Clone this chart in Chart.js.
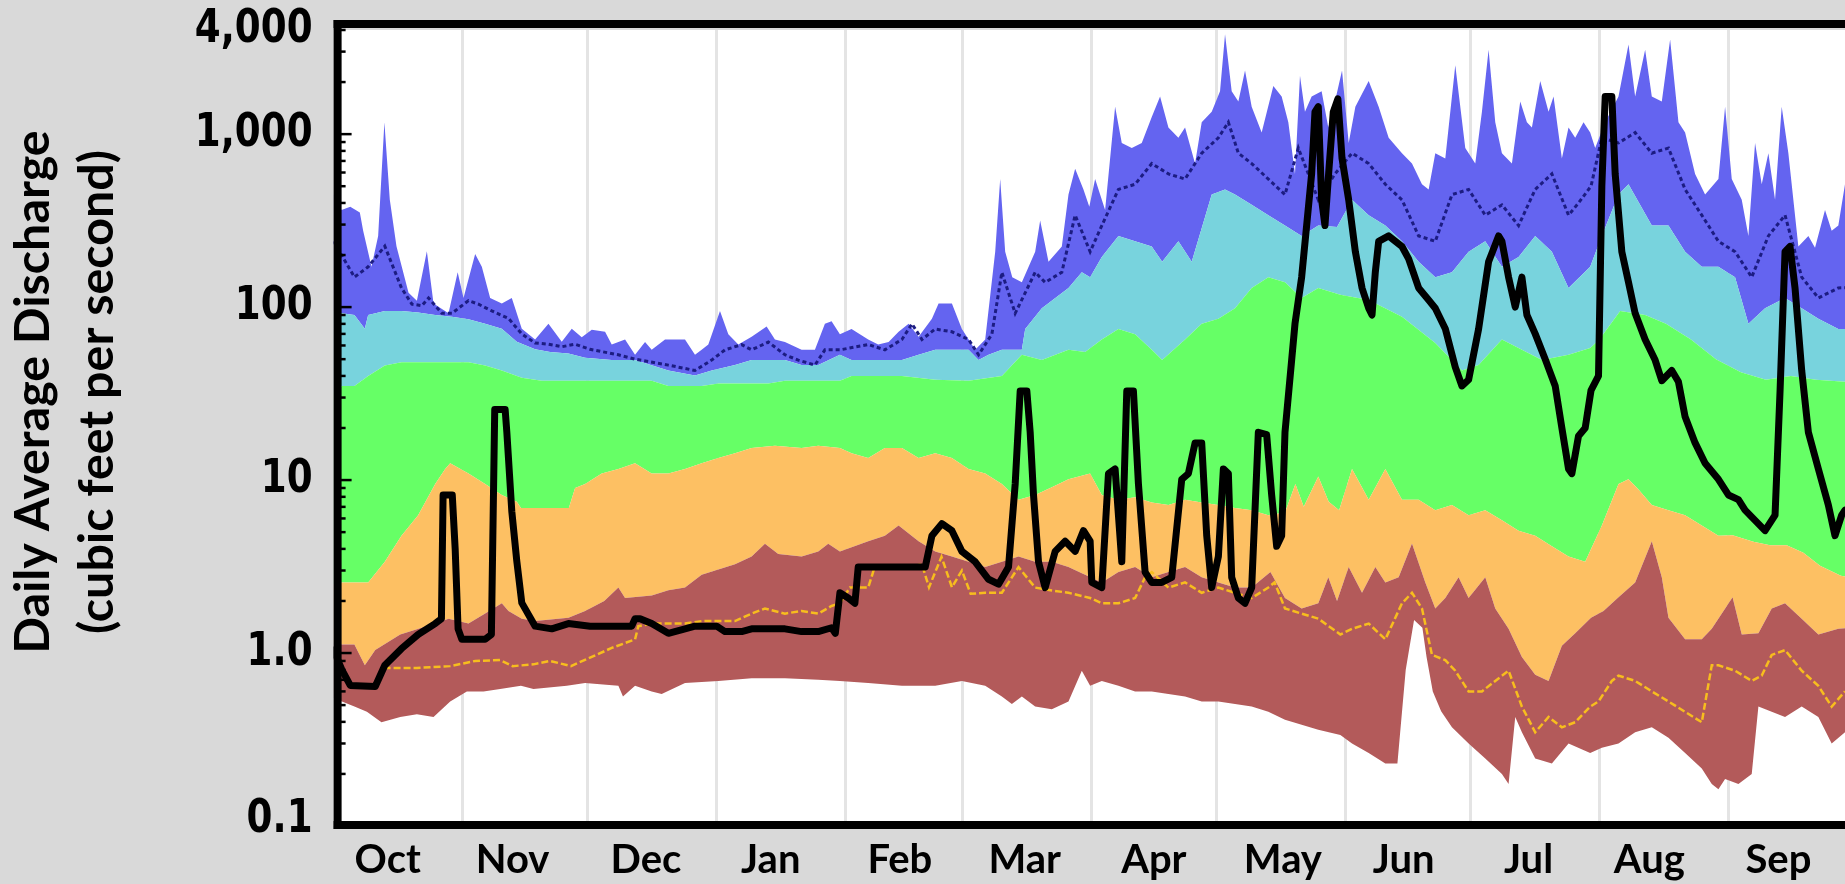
<!DOCTYPE html>
<html><head><meta charset="utf-8">
<script src="https://cdn.jsdelivr.net/npm/chart.js@4/dist/chart.umd.min.js"></script>
<style>html,body{margin:0;padding:0;background:#d9d9d9;overflow:hidden}#wrap{position:relative;width:1845px;height:884px}</style>
</head><body><div id="wrap"><canvas id="c" width="1845" height="884"></canvas></div>
<script>
// ---- axis text ----
const titleLines = ['Daily Average Discharge', '(cubic feet per second)'];
const monthNames = ['Oct','Nov','Dec','Jan','Feb','Mar','Apr','May','Jun','Jul','Aug','Sep'];
const monthLabelDays = [13,43,75,105,136,166,197,228,257,287,316,347];
const monthStartDays = [31,61,92,123,151,182,212,243,273,304,335];
const yTickValues = [0.1,1,10,100,1000,4000];
const yTickLabels = ['0.1','1.0','10','100','1,000','4,000'];

// ---- series: [day of water year, cfs] ----
const minPts = [[0,0.55],[2,0.525],[5,0.49],[8,0.457],[11.5,0.398],[16,0.427],[20,0.442],[24,0.427],[28,0.525],[32,0.6],[36,0.6],[40,0.62],[45,0.646],[48,0.62],[56,0.646],[60.4,0.67],[64,0.66],[68.4,0.646],[69.5,0.56],[72.4,0.646],[76.4,0.6],[78.8,0.58],[84.4,0.67],[92.4,0.69],[100.4,0.716],[108.4,0.716],[116.4,0.7],[121.6,0.69],[128.4,0.67],[136.5,0.646],[144.5,0.646],[150.9,0.69],[156.5,0.646],[160.5,0.56],[162.9,0.507],[165.3,0.56],[168.5,0.49],[172.5,0.473],[176.5,0.525],[179.7,0.79],[181.7,0.646],[184.5,0.69],[188.5,0.646],[192.5,0.6],[196.5,0.6],[200.5,0.58],[204.5,0.56],[208.5,0.525],[212.5,0.525],[216.5,0.507],[220.5,0.49],[224.5,0.457],[228.5,0.412],[232.5,0.385],[236.5,0.36],[241.8,0.336],[244.6,0.3],[248.6,0.264],[252.6,0.23],[255.5,0.23],[257.5,0.8],[259.5,1.55],[261.5,1.4],[262.5,0.95],[264,0.6],[266,0.46],[268.6,0.372],[272.6,0.3],[276.6,0.246],[280.6,0.2],[282.2,0.175],[283.8,0.427],[285.4,0.348],[288.6,0.246],[292.6,0.23],[296.6,0.3],[301.8,0.264],[304.6,0.283],[308.6,0.3],[312.6,0.348],[316.6,0.372],[320.6,0.324],[324.6,0.264],[328.6,0.215],[331,0.175],[332.6,0.163],[334.2,0.187],[337.4,0.175],[340.6,0.2],[342.2,0.49],[345.4,0.457],[348.6,0.427],[352.6,0.49],[356.6,0.427],[359.8,0.3],[363,0.348],[365,0.35]];
const p10Pts = [[0,1.15],[2,1.12],[5,1.12],[7.5,0.85],[10,1.04],[16,1.28],[24.4,1.48],[27.6,1.58],[32.4,1.48],[36.4,1.69],[40.4,1.94],[42,1.75],[45.2,1.58],[48.4,1.53],[56.4,1.6],[60.4,1.75],[65,2.0],[68.4,2.39],[70,2.08],[76.4,2.15],[80.4,2.31],[84.4,2.39],[88.4,2.84],[92.4,3.04],[96.4,3.26],[100.4,3.61],[103.6,4.29],[106.8,3.74],[112.4,3.61],[116.4,3.87],[118.8,4.29],[121.6,3.87],[128.4,4.43],[132.4,4.77],[135.7,5.46],[140.5,4.43],[144.5,3.87],[148.5,3.61],[152.5,3.37],[156.5,3.14],[160.5,3.37],[164.5,3.61],[168.5,3.37],[172.5,3.37],[176.5,3.14],[181,2.8],[184.5,2.56],[188.5,2.94],[192.5,3.14],[196.5,2.74],[200.5,2.94],[204.5,3.14],[208.5,2.74],[212.5,2.56],[216.5,2.39],[220.5,2.39],[225,2.94],[228.5,2.08],[232.5,1.81],[236.5,1.94],[238.9,2.74],[241,2.0],[243.8,3.14],[247,2.23],[250.2,3.14],[252.6,2.56],[255.8,2.74],[259,4.3],[262.2,2.56],[264.6,1.81],[267,2.08],[270.2,2.74],[272.6,2.08],[276.6,2.74],[279,1.81],[282.2,1.38],[285.4,0.95],[288.6,0.75],[291.8,0.69],[295,1.1],[298.2,1.3],[302,1.6],[305,1.75],[308.6,2.1],[312.6,2.56],[316.6,4.43],[319,2.74],[320.6,1.6],[324.6,1.2],[328.6,1.2],[331,1.38],[336,2.1],[338.2,1.28],[342.2,1.3],[345.4,1.81],[348.6,1.94],[352.6,1.58],[356.6,1.28],[361.4,1.38],[365,1.4]];
const p25Pts = [[0,2.5],[2,2.56],[8.3,2.56],[12.3,3.37],[16.3,4.76],[20.3,6.27],[24.4,9.5],[26.8,11.6],[28,12.5],[32.4,10.9],[36.4,9.5],[40.4,8.2],[44,7.5],[45,6.9],[56.5,6.9],[58,9.0],[60.4,9.5],[64.4,10.9],[68.4,11.6],[72.4,12.5],[76.4,10.9],[80.4,10.9],[84.4,11.6],[88.4,12.5],[92.4,13.4],[96.4,14.3],[100.4,15.3],[106,15.8],[112.4,15.3],[116.4,15.8],[121.6,15.3],[124.4,14.3],[128.4,13.4],[132.4,15.3],[136.5,15.3],[140.5,13.4],[144.5,14.3],[148.5,13.4],[152.5,11.6],[156.5,10.9],[160.5,9.5],[164.5,7.7],[168.5,8.2],[172.5,9.1],[176.5,10.1],[181.7,10.9],[184.5,8.2],[188.5,7.7],[192.5,7.96],[196.5,7.43],[200.5,7.18],[204.5,7.7],[208.5,7.43],[212.5,7.18],[216.5,6.9],[220.5,6.7],[224.5,6.27],[228.5,6.5],[231,9.5],[233,7.0],[236.5,10.5],[239,7.5],[241.5,6.7],[244.6,11.6],[248.6,7.7],[252.6,11.6],[256.6,7.7],[260.6,7.7],[264.6,6.7],[268.6,7.18],[272.6,6.27],[276.6,6.7],[280.6,5.85],[284.6,5.1],[288.6,4.77],[292.6,4.14],[296.6,3.61],[300.6,3.37],[304.6,5.46],[308.6,9.5],[311,10.1],[313.4,8.83],[316.6,7.18],[320.6,6.7],[324.6,6.27],[328.6,5.46],[332.6,4.77],[336,4.8],[341,4.4],[345,4.2],[349,4.2],[353,3.8],[357,3.2],[362,2.8],[365,2.7]];
const p75Pts = [[0,32],[2,35],[5,35],[8.3,40],[12.3,46],[16.3,48],[24.4,48],[32.4,48],[36.4,46],[40.4,43],[45.2,39],[50,37.5],[76.4,37.5],[80.4,35],[88.4,35],[92.4,36.2],[104.4,36.2],[108.4,37.5],[121.6,37.5],[124.4,40],[136.5,40],[144.5,38],[152.5,37.5],[160.5,40],[165.3,53],[170.1,49.4],[176.5,56.6],[180.5,55],[184.5,65],[188.5,74.7],[192.5,69.7],[196.5,56.6],[199,49.4],[204.5,65],[208.5,80],[212.5,85.7],[216.5,98.5],[220.5,129],[224.5,149],[228.5,139],[232.5,113],[236.5,129],[241.8,118],[248.6,110],[256.6,88],[264.6,62],[271,43],[275,46.2],[280.6,65],[285.4,56.6],[290.2,49.4],[296.6,53],[301.8,58],[304,65],[309,95],[315,90],[320,80],[326,65],[332,50],[338,42],[344,38],[350,40],[356,38],[363,37],[365,37]];
const p90Pts = [[0,95],[2,92],[5,90],[7.5,75],[8.3,90],[12.3,95],[16.3,95],[20.3,93],[24.4,90],[28.4,88],[32.4,85],[36.4,80],[40.4,75],[44,63],[48.4,57],[52,55],[56.4,54],[60.4,51],[66.8,49.4],[72.4,49.4],[80.4,43],[86.8,40.2],[90.8,43],[96.4,46.2],[100.4,49.4],[108.4,49.4],[112.4,46.2],[116.4,46.2],[121.6,53],[124.4,49.4],[136.5,49.4],[140.5,53],[144.5,56.6],[152.5,56.6],[154.9,49.4],[157.3,53],[160.5,56.6],[165.3,56.6],[166.1,74.7],[170.1,98.5],[176.5,129],[179.7,159],[181.7,149],[184.5,195],[188.5,258],[192.5,240],[196.5,224],[199,183],[202.9,240],[206.1,183],[210.9,447],[214.1,479],[216.5,447],[220.5,390],[224.5,340],[228.5,296],[232.5,258],[236.5,296],[241,290],[244.6,417],[248.6,340],[252.6,296],[256.6,240],[260.6,183],[264.6,149],[268.6,159],[272.6,209],[276.6,240],[280.6,171],[284.6,195],[288.6,258],[292.6,209],[296.6,129],[301.8,171],[304.6,258],[308.6,447],[311,513],[316.6,296],[320.6,296],[324.6,209],[328.6,171],[332.6,171],[336.6,149],[339.8,80],[343.8,98.5],[348.6,113],[352.6,98.5],[356.6,85.7],[361.4,74.7],[365,75]];
const maxPts = [[0,450],[1.9,364],[4,380],[6.3,352],[7.1,276],[9.1,171],[10.7,258],[12.2,1170],[13.5,417],[15.1,225],[18,121],[20,109],[22.4,210],[24,105],[27.6,92],[29.8,159],[31.2,113],[34,203],[35.6,171],[37.6,113],[40.4,105],[42.8,113],[45.2,75],[48.4,65],[51.6,80],[54.8,63],[57.2,75],[59.6,67],[62,74],[65.2,72],[66.8,60.7],[70,65],[72.4,53],[74.8,62.8],[76.4,56.6],[79.6,65],[84.4,65],[86.8,53],[88.4,56.6],[90,60.7],[92.8,95],[94.8,69.7],[97.2,60.7],[100.4,67.3],[104,77.3],[106,65],[108.4,62.8],[112.4,56.6],[115.6,56.6],[118,80],[119.6,82.8],[121.6,69.7],[124.4,74.7],[128.4,65],[130.8,60.7],[133.3,62.8],[135.7,72],[138.1,80],[140.5,67.3],[143.7,85.7],[145.3,105],[148.5,105],[150.9,74.7],[154.1,56.6],[156.5,65],[158.9,209],[160.1,550],[161.3,209],[163,149],[165.3,139],[168.5,209],[169.7,317],[171.7,183],[174.9,224],[176.5,447],[178.1,631],[180.1,479],[181.5,380],[182.9,550],[185.3,364],[187.7,1442],[189.3,889],[191.7,831],[194.1,889],[196.5,1256],[198.5,1652],[200.5,1094],[202.9,953],[204.5,1094],[206.9,676],[208.5,1172],[210.9,1346],[212.9,1770],[214.1,3775],[215.7,1770],[217.3,1545],[218.9,2333],[220.5,1442],[222.9,1021],[225.7,1897],[227.7,1652],[229.3,1172],[230.9,589],[232.1,2178],[233.3,1346],[234.9,1652],[237.3,1770],[238.9,1094],[240.5,1545],[242.2,2333],[243.8,889],[245.4,1442],[248.6,2032],[251,1442],[253.4,953],[256.6,776],[259,676],[261.4,513],[263,479],[264.6,776],[267,724],[269.4,2500],[271.8,831],[274.2,676],[275.8,1346],[277.4,3077],[279,1172],[280.6,776],[283,676],[285,1545],[286.6,1172],[287.8,1094],[289.8,2032],[291.8,1346],[293,1652],[295,724],[296.6,1094],[298.2,953],[300.2,1172],[301.8,1021],[303,831],[305.4,1172],[308.6,1652],[311,3300],[312.6,1652],[315,3077],[316.6,1652],[319,1545],[321,3524],[323,1172],[324.6,1021],[327,589],[329.4,447],[332.6,550],[334.2,1442],[335.8,550],[338.2,417],[339.8,258],[341.4,889],[343,513],[344.6,776],[346.2,417],[347.8,1442],[349.4,776],[351.8,224],[354.2,258],[355.8,220],[358.2,364],[359.8,276],[361.4,296],[363,513],[365,500]];
const meanPts = [[0,240],[5,149],[8.3,171],[12.3,225],[16.3,129],[18.8,104],[21.2,102],[22.8,113],[26,92],[28.4,92],[32.4,109],[34.8,104],[38,95],[42,86],[45.2,70],[48.4,62],[51.6,61],[54.8,59],[58,61],[61.6,57],[68.4,53],[72.4,50],[80.4,46.2],[86.8,43],[90.8,49.4],[94,56.6],[98,60.7],[100.4,56.6],[104.4,62.8],[108.4,53],[111.6,49.4],[115.6,46.2],[118,56.6],[121.6,56.6],[128.4,60.7],[132.4,56.6],[136.5,65],[138.9,80],[141.3,65],[144.5,74.7],[148.5,72],[152.5,65],[154.9,53],[158.1,69.7],[160.5,159],[163.7,92],[168.5,159],[170.9,139],[174.9,159],[178.1,340],[181.7,209],[184.5,296],[188.5,479],[192.5,513],[196.5,676],[200.5,589],[204.5,550],[208.5,776],[212.5,953],[214.9,1172],[217.3,776],[220.5,676],[224.5,550],[228.5,447],[231.7,831],[236.5,417],[240.5,589],[244.6,776],[248.6,676],[252.6,513],[256.6,417],[260.6,258],[264.6,240],[268.6,447],[272.6,479],[276.6,340],[280.6,390],[284.6,296],[288.6,479],[292.6,589],[296.6,340],[299,400],[302,500],[304.6,953],[308.6,889],[312.6,1021],[316.6,776],[320.6,831],[324.6,479],[328.6,340],[332.6,240],[336.6,209],[340.6,149],[344.6,258],[348.6,340],[352.6,149],[356.6,113],[361.4,129],[365,130]];
const yellowPts = [[12,0.82],[20,0.82],[28,0.84],[34,0.9],[40,0.91],[43,0.84],[48,0.86],[52,0.9],[57,0.84],[62,0.95],[66.8,1.07],[72.4,1.2],[73.2,1.43],[76.4,1.48],[84.4,1.48],[88.4,1.53],[96.4,1.53],[100.4,1.69],[103.6,1.81],[108.4,1.69],[112.4,1.75],[116.4,1.69],[119.6,1.87],[121.6,1.94],[124,2.39],[128.4,2.39],[130,3.17],[139,3.17],[141.3,3.26],[143,2.4],[146,3.6],[148.5,2.4],[150.9,3.0],[153,2.2],[156.5,2.23],[160.5,2.23],[164.5,3.14],[168.5,2.39],[172.5,2.3],[176.5,2.23],[181.7,2.08],[184.5,1.94],[188.5,1.94],[192.5,2.08],[194.9,2.74],[196.5,2.94],[200.5,2.39],[204.5,2.56],[208.5,2.23],[212.5,2.39],[216.5,2.23],[220.5,2.08],[224.5,2.39],[226,2.56],[228.5,1.81],[232.5,1.69],[236.5,1.58],[241.8,1.28],[244.6,1.38],[248.6,1.48],[252.6,1.2],[256.6,1.94],[259,2.23],[261.4,1.81],[263.8,0.975],[267,0.91],[269.4,0.79],[272.6,0.6],[275.8,0.6],[279,0.69],[282.2,0.79],[285.4,0.49],[288.6,0.348],[291.8,0.427],[295,0.372],[298.2,0.398],[301.8,0.49],[303.8,0.525],[307,0.69],[308.6,0.74],[312.6,0.69],[316.6,0.6],[320.6,0.525],[324.6,0.457],[328.6,0.398],[331,0.85],[332.6,0.85],[336.6,0.79],[340.6,0.69],[343,0.74],[345.4,0.975],[348.6,1.04],[352.6,0.79],[356.6,0.646],[359.8,0.49],[363,0.6]];
const currentPts = [[0,1.04],[2,0.8],[4,0.65],[10,0.64],[12.3,0.85],[16.3,1.06],[20.3,1.28],[24.4,1.48],[25.9,1.58],[26.3,8.2],[28.5,8.2],[29.2,4.0],[29.9,1.38],[30.8,1.2],[36.4,1.2],[37.9,1.28],[38.7,25.6],[41.2,25.6],[41.6,19],[42.8,6.6],[44,3.4],[45.2,1.95],[48.4,1.43],[52.4,1.38],[56.4,1.48],[61.6,1.43],[71.6,1.43],[72.4,1.58],[73.6,1.58],[76.4,1.48],[80.4,1.3],[84.4,1.38],[86.8,1.43],[92,1.43],[94,1.33],[98,1.33],[100.4,1.38],[108.4,1.38],[112.4,1.33],[116.4,1.33],[119.6,1.4],[120.5,1.3],[121.6,2.23],[123.6,2.08],[125.2,1.94],[126,3.14],[132.4,3.14],[142.1,3.14],[143.7,4.77],[146.1,5.6],[148.5,5.1],[150.9,3.87],[154.1,3.37],[157.3,2.67],[159.7,2.5],[162.1,3.14],[163.7,9.5],[164.9,32.7],[166.5,32.7],[167.3,18.9],[168.1,8.2],[169.3,3.37],[170.9,2.39],[173.3,3.87],[175.7,4.43],[178.1,3.87],[180.1,5.1],[181.7,4.43],[182.1,2.56],[184.5,2.39],[186.1,10.9],[187.7,11.6],[189.3,3.37],[190.5,32.7],[192.1,32.7],[193.3,9.5],[194.9,2.94],[196.5,2.56],[198.9,2.56],[201.3,2.74],[203.7,10.1],[205.3,10.9],[206.9,16.4],[208.5,16.4],[209.7,4.77],[210.9,2.39],[212.5,3.61],[213.7,11.6],[214.9,10.9],[215.7,2.74],[217.3,2.08],[218.9,1.94],[220.5,2.39],[222.1,18.9],[224.1,18.3],[225.3,8.2],[226.5,4.14],[227.7,4.77],[228.5,18.9],[230.1,49.4],[230.9,80],[232.5,149],[234.9,589],[235.7,1346],[236.5,1442],[237.3,417],[238.1,296],[239,600],[240.1,1346],[241.2,1600],[242.2,724],[243.8,417],[245.4,209],[247,129],[248.6,98.5],[249.4,90],[250.2,160],[251,240],[253.4,258],[256.6,224],[258.2,190],[260.6,129],[263,110],[264.6,98.5],[267,75],[269.4,45],[271,35],[272.6,38],[275,74.7],[277.4,183],[279.8,258],[280.6,240],[282.2,149],[283.8,100],[285.4,149],[286.6,90],[288.6,70],[291,50],[293.4,35],[295,20],[296.6,11.6],[297.4,10.9],[299,18],[300.6,20],[302,33],[303.8,40],[304.6,500],[305.4,1652],[307,1652],[307.8,589],[309.4,209],[311,139],[312.6,92],[315,65],[317.4,49.4],[319,37.5],[321.4,43],[323,37],[324.6,23.2],[327,16.4],[329.4,12.5],[332.6,10.1],[335,8.2],[337.4,7.7],[339,6.7],[341.4,5.85],[343.8,5.1],[346.2,6.27],[347.4,32.7],[348.6,209],[349.8,224],[351,129],[352.6,43],[354.2,18.9],[356.6,11.6],[359,7.18],[360.6,4.77],[362.2,6.27],[363,6.7],[365,6.5]];

// ---- styling ----
const C = {brown:'#b35a5a', orange:'#fdc063', green:'#66ff66', cyan:'#78d3dd', blue:'#6464f0',
           mean:'#1c1c82', yellow:'#f7bd1e', current:'#000000', grid:'#e4e4e4'};

const xy = pts => pts.map(p => ({x: p[0], y: p[1]}));
const band = (pts, color) => ({data: xy(pts), borderWidth: 0, pointRadius: 0, fill: '-1', backgroundColor: color, order: 10});

const decorPlugin = {
  id: 'decor',
  beforeDraw(chart) {
    const {ctx, chartArea: a} = chart;
    ctx.save(); ctx.fillStyle = '#ffffff';
    ctx.fillRect(a.left, a.top, a.right - a.left, a.bottom - a.top);
    ctx.restore();
  },
  afterDatasetsDraw(chart) {
    const {ctx, chartArea: a, scales: {y}} = chart;
    ctx.save();
    ctx.fillStyle = '#000';
    ctx.fillRect(a.left, a.top - 10, a.right - a.left, 8);
    ctx.fillRect(a.left, a.top - 10, 8, a.bottom + 3 - (a.top - 10));
    ctx.fillRect(a.left, a.bottom - 5, a.right - a.left, 8);
    ctx.strokeStyle = '#000'; ctx.lineWidth = 2.5;
    for (let e = -1; e <= 3; e++) for (let m = 1; m <= 9; m++) {
      const v = m * Math.pow(10, e);
      if (v > 4000 || v <= 0.1) continue;
      const py = y.getPixelForValue(v);
      ctx.beginPath(); ctx.moveTo(a.left + 6, py); ctx.lineTo(a.left + (m === 1 ? 18 : 12), py); ctx.stroke();
    }
    ctx.restore();
  },
  afterDraw(chart) {
    const {ctx, chartArea: a, scales: {y}} = chart;
    ctx.save();
    ctx.fillStyle = '#000'; ctx.font = 'bold 46px "DejaVu Sans"';
    ctx.textAlign = 'right'; ctx.textBaseline = 'middle';
    yTickValues.forEach((v, i) => {
      const py = Math.min(y.getPixelForValue(v), a.bottom - 6);
      ctx.save(); ctx.translate(a.left - 21, py); ctx.scale(0.81, 1);
      ctx.fillText(yTickLabels[i], 0, 0); ctx.restore();
    });
    ctx.font = 'bold 48px Lato';
    const w = ctx.measureText(titleLines[0]).width;
    const size = 48 * 524 / w;
    ctx.font = 'bold ' + size.toFixed(1) + 'px Lato';
    ctx.textAlign = 'center'; ctx.textBaseline = 'alphabetic';
    const cy = 392;
    [[49, titleLines[0]], [113, titleLines[1]]].forEach(([bx, t]) => {
      ctx.save(); ctx.translate(bx, cy); ctx.rotate(-Math.PI / 2); ctx.fillText(t, 0, 0); ctx.restore();
    });
    ctx.restore();
  }
};

new Chart(document.getElementById('c'), {
  type: 'line',
  data: {datasets: [
    {data: xy(minPts), borderWidth: 0, pointRadius: 0, fill: false, order: 10},
    band(p10Pts, C.brown),
    band(p25Pts, C.orange),
    band(p75Pts, C.green),
    band(p90Pts, C.cyan),
    band(maxPts, C.blue),
    {data: xy(meanPts), borderColor: C.mean, borderWidth: 3, borderDash: [4, 3], pointRadius: 0, fill: false, order: 3},
    {data: xy(yellowPts), borderColor: C.yellow, borderWidth: 2.5, borderDash: [7, 3], pointRadius: 0, fill: false, order: 2},
    {data: xy(currentPts), borderColor: C.current, borderWidth: 7, borderJoinStyle: 'round', borderCapStyle: 'round', pointRadius: 0, fill: false, order: 1}
  ]},
  options: {
    responsive: false, animation: false, devicePixelRatio: 1,
    layout: {padding: {top: 30, right: 0, bottom: 0, left: 0}},
    elements: {line: {tension: 0}},
    plugins: {legend: {display: false}, tooltip: {enabled: false}},
    scales: {
      x: {
        type: 'linear', min: 0, max: 363,
        afterFit: s => { s.height = 58; },
        afterBuildTicks: s => {
          s.ticks = monthStartDays.concat(monthLabelDays).sort((p, q) => p - q).map(v => ({value: v}));
        },
        ticks: {autoSkip: false, maxRotation: 0, minRotation: 0, padding: 10, color: '#000',
          font: {family: 'Lato', weight: 'bold', size: 40},
          callback: v => { const i = monthLabelDays.indexOf(v); return i >= 0 ? monthNames[i] : ''; }},
        grid: {color: c => (c.tick && monthStartDays.includes(c.tick.value)) ? C.grid : 'rgba(0,0,0,0)', lineWidth: 3, drawTicks: false},
        border: {display: false}
      },
      y: {
        type: 'logarithmic', min: 0.1, max: 4000,
        afterFit: s => { s.width = 333.6; },
        ticks: {display: false}, grid: {display: false}, border: {display: false}
      }
    }
  },
  plugins: [decorPlugin]
});
</script></body></html>
